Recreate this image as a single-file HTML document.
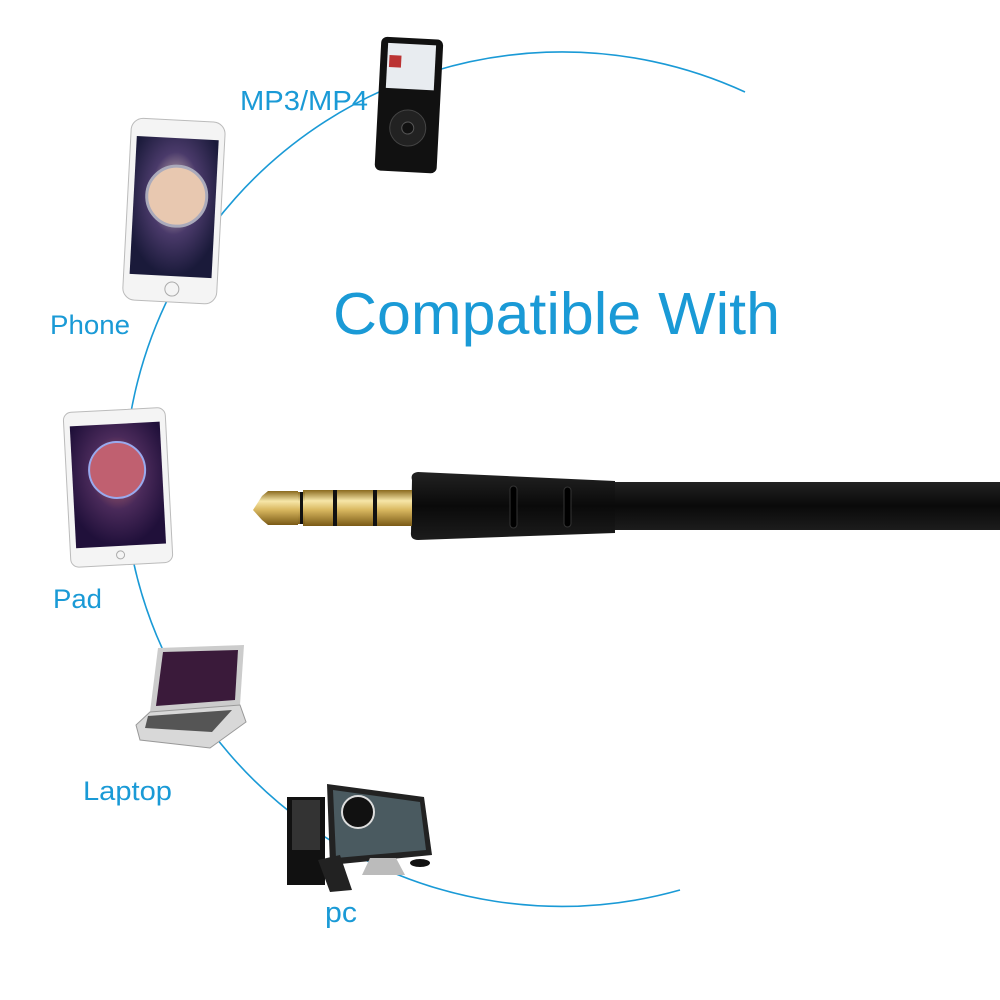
<!DOCTYPE html>
<html><head><style>body{margin:0;background:#fff}svg{display:block}</style></head><body>
<svg width="1000" height="1000" viewBox="0 0 1000 1000" xmlns="http://www.w3.org/2000/svg" font-family="Liberation Sans, sans-serif">
<defs>
<linearGradient id="gold" x1="0" y1="0" x2="0" y2="1"><stop offset="0" stop-color="#8a6a1e"/><stop offset=".3" stop-color="#f6e6a8"/><stop offset=".55" stop-color="#d9b860"/><stop offset="1" stop-color="#7a5a16"/></linearGradient>
<linearGradient id="blk" x1="0" y1="0" x2="0" y2="1"><stop offset="0" stop-color="#222"/><stop offset=".5" stop-color="#0a0a0a"/><stop offset="1" stop-color="#1c1c1c"/></linearGradient>
<radialGradient id="scr1" cx=".5" cy=".4" r=".6"><stop offset="0" stop-color="#f0d6c8"/><stop offset=".5" stop-color="#4a3a6a"/><stop offset="1" stop-color="#1a1a3a"/></radialGradient>
<radialGradient id="scr2" cx=".5" cy=".4" r=".6"><stop offset="0" stop-color="#c87070"/><stop offset=".5" stop-color="#4a2a5a"/><stop offset="1" stop-color="#20103a"/></radialGradient>
</defs>
<path d="M745,92 A438,438 0 0 0 124,490 A438,438 0 0 0 680,890" fill="none" stroke="#1a9ad6" stroke-width="1.6"/>
<!-- MP3 -->
<g transform="rotate(3 408 104)"><rect x="378" y="38" width="62" height="134" rx="6" fill="#111"/><rect x="385" y="44" width="48" height="45" fill="#e8ecf0"/><rect x="387" y="56" width="12" height="12" fill="#b33"/><circle cx="409" cy="128" r="18" fill="#222" stroke="#444"/><circle cx="409" cy="128" r="6" fill="#111" stroke="#555"/></g>
<!-- Phone -->
<g transform="rotate(3 173 210)"><rect x="127" y="120" width="94" height="182" rx="12" fill="#f4f4f4" stroke="#bbb"/><rect x="133" y="138" width="82" height="138" fill="url(#scr1)"/><circle cx="176" cy="196" r="30" fill="#e8c8b0" stroke="#aab" stroke-width="3"/><circle cx="176" cy="289" r="7" fill="none" stroke="#aaa"/></g>
<!-- Pad -->
<g transform="rotate(-3 117 487)"><rect x="67" y="410" width="102" height="155" rx="8" fill="#f4f4f4" stroke="#bbb"/><rect x="73" y="424" width="90" height="122" fill="url(#scr2)"/><circle cx="118" cy="470" r="28" fill="#c06070" stroke="#9ae" stroke-width="2"/><circle cx="117" cy="555" r="4" fill="none" stroke="#aaa"/></g>
<!-- Laptop -->
<polygon points="158,648 244,645 240,705 150,712" fill="#ccc"/><polygon points="163,652 238,650 235,700 156,706" fill="#3a1a3a"/>
<polygon points="150,712 240,705 246,722 210,748 140,740 136,725" fill="#d8d8d8" stroke="#999"/><polygon points="148,716 232,710 212,732 145,728" fill="#555"/>
<!-- PC -->
<rect x="287" y="797" width="38" height="88" fill="#111"/><rect x="292" y="800" width="28" height="50" fill="#333"/>
<polygon points="327,784 424,797 432,855 330,865" fill="#222"/><polygon points="333,790 420,802 426,850 336,858" fill="#4a5a60"/><circle cx="358" cy="812" r="16" fill="#111" stroke="#ddd" stroke-width="2"/>
<polygon points="370,858 396,858 405,875 362,875" fill="#bbb"/><polygon points="318,860 340,855 352,890 330,892" fill="#222"/><ellipse cx="420" cy="863" rx="10" ry="4" fill="#111"/>
<!-- labels -->
<g fill="#1a9ad6"><text x="240" y="110" font-size="28" textLength="128" lengthAdjust="spacingAndGlyphs">MP3/MP4</text><text x="50" y="334" font-size="27" textLength="80" lengthAdjust="spacingAndGlyphs">Phone</text><text x="53" y="608" font-size="27" textLength="49" lengthAdjust="spacingAndGlyphs">Pad</text><text x="83" y="800" font-size="27" textLength="89" lengthAdjust="spacingAndGlyphs">Laptop</text><text x="325" y="922" font-size="29" textLength="32" lengthAdjust="spacingAndGlyphs">pc</text>
<text x="333" y="334" font-size="59" textLength="447" lengthAdjust="spacingAndGlyphs">Compatible With</text></g>
<!-- Jack -->
<rect x="600" y="482" width="400" height="48" fill="url(#blk)"/>
<path d="M412,480 Q410,473 418,472 L615,481 L615,533 L418,540 Q410,540 411,532 Z" fill="url(#blk)"/>
<rect x="510" y="486" width="7" height="42" rx="3.5" fill="#000" stroke="#333"/><rect x="564" y="487" width="7" height="40" rx="3.5" fill="#000" stroke="#333"/>
<rect x="303" y="490" width="109" height="36" fill="url(#gold)"/>
<rect x="297" y="492" width="8" height="32" fill="url(#gold)"/>
<path d="M262,496 L268,491 L298,491 L298,525 L268,525 L262,520 L253,510 Z" fill="url(#gold)"/>
<rect x="300" y="492" width="3" height="32" fill="#111"/><rect x="333" y="490" width="4" height="36" fill="#111"/><rect x="373" y="490" width="4" height="36" fill="#111"/>
</svg>
</body></html>
